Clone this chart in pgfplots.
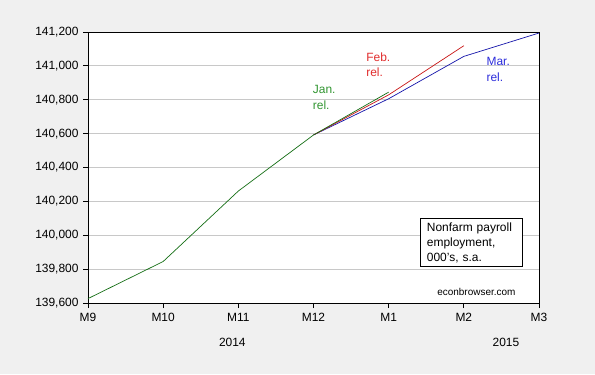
\documentclass[border=0pt]{standalone}
\usepackage{pgfplots}
\pgfplotsset{compat=1.18}
\usepackage{fontspec}
\setmainfont{Liberation Sans}
\definecolor{bgg}{RGB}{240,240,240}
\definecolor{gridg}{RGB}{200,200,200}
\definecolor{jang}{RGB}{20,110,20}
\definecolor{jant}{RGB}{50,150,50}
\definecolor{febr}{RGB}{200,20,20}
\definecolor{febt}{RGB}{225,45,45}
\definecolor{marb}{RGB}{20,20,170}
\definecolor{mart}{RGB}{45,45,220}
\begin{document}
\begin{tikzpicture}[x=1bp,y=1bp]
\fill[bgg] (0,0) rectangle (595,374);
\useasboundingbox (0,0) rectangle (595,374);
\begin{axis}[
  at={(88bp,71bp)}, anchor=south west,
  scale only axis, width=451bp, height=271bp,
  axis background/.style={fill=white},
  xmin=0, xmax=6, ymin=139600, ymax=141200,
  xtick={0,1,2,3,4,5,6},
  xticklabels={M9,M10,M11,M12,M1,M2,M3},
  ytick={139600,139800,140000,140200,140400,140600,140800,141000,141200},
  scaled y ticks=false,
  ymajorgrids, grid style={gridg, line width=0.8pt},
  tick align=outside, tick pos=left,
  major tick length=5bp,
  axis line style={black, line width=0.9pt},
  tick style={black, line width=0.8pt},
  /pgf/number format/.cd, fixed, precision=0, 1000 sep={,}, assume math mode=true,
  /pgfplots/.cd,
  ticklabel style={font=\fontsize{12}{14}\selectfont},
  yticklabel style={xshift=-1bp},
  xticklabel style={yshift=-2bp},
  clip=false,
]
\addplot[marb, line width=0.7pt] coordinates {(3,140592) (4,140806) (5,141056) (6,141194)};
\addplot[febr, line width=0.7pt] coordinates {(3,140592) (4,140829) (5,141119)};
\addplot[jang, line width=0.7pt] coordinates {(0,139626) (1,139845) (2,140261) (3,140592) (4,140845)};
\node[jant, anchor=north west, align=left, inner sep=0pt, font=\fontsize{12}{15.5}\selectfont] at (axis cs:2.99,140885) {Jan.\\rel.};
\node[febt, anchor=north west, align=left, inner sep=0pt, font=\fontsize{12}{15.5}\selectfont] at (axis cs:3.7,141080) {Feb.\\rel.};
\node[mart, anchor=north west, align=left, inner sep=0pt, font=\fontsize{12}{15.5}\selectfont] at (axis cs:5.3,141050) {Mar.\\rel.};
\node[draw=black, line width=0.8pt, fill=white, anchor=north west, align=left, text width=89bp, inner xsep=6.5bp, inner ysep=4bp, font=\fontsize{12}{15}\selectfont] at (axis cs:4.417,140100) {Nonfarm payroll\\employment,\\000's, s.a.};
\node[font=\fontsize{10}{12}\selectfont] at (axis cs:5.167,139667) {econbrowser.com};
\node[font=\fontsize{12}{14}\selectfont] at (axis cs:1.92,139600) [yshift=-39bp] {2014};
\node[font=\fontsize{12}{14}\selectfont] at (axis cs:5.56,139600) [yshift=-39bp] {2015};
\end{axis}
\end{tikzpicture}
\end{document}
